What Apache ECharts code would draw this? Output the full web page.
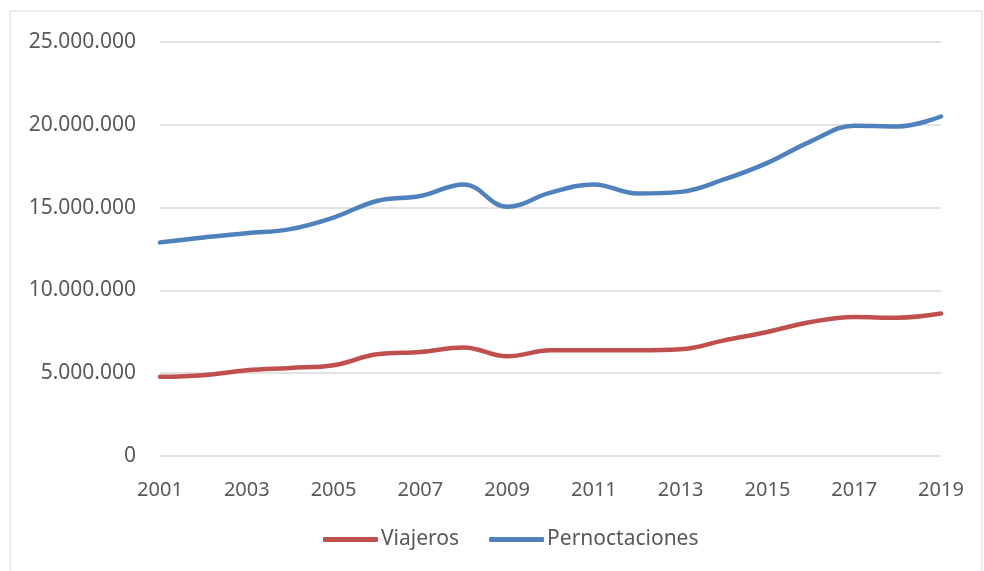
<!DOCTYPE html>
<html>
<head>
    <meta http-equiv="Content-Type" content="text/html; charset=UTF-8" />
    <title>Viajeros y pernoctaciones</title>
    <script src="https://cdn.jsdelivr.net/npm/echarts@6/dist/echarts.min.js"></script>
    <style>
        html, body { margin: 0; padding: 0; background: #fff; }
        #main { width: 984px; height: 571px; }
    </style>
</head>
<body>
<div id="main"></div>
<script type="text/javascript">
    // datos
    var years = ['2001','2002','2003','2004','2005','2006','2007','2008','2009','2010',
                 '2011','2012','2013','2014','2015','2016','2017','2018','2019'];
    var viajeros = [4780000, 4880000, 5180000, 5320000, 5480000, 6140000, 6280000, 6550000, 6020000, 6380000,
                    6380000, 6380000, 6440000, 6980000, 7490000, 8090000, 8390000, 8350000, 8600000];
    var pernoctaciones = [12900000, 13200000, 13450000, 13700000, 14400000, 15400000, 15700000, 16400000, 15050000, 15900000,
                          16400000, 15850000, 15950000, 16700000, 17700000, 19000000, 19950000, 19900000, 20500000];
    var seriesNames = ['Viajeros', 'Pernoctaciones'];

    var textColor = '#595959';
    var fontFam = '"Noto Sans", "Open Sans", sans-serif';

    function fmt(v) {
        // separador de miles con punto
        return String(v).replace(/\B(?=(\d{3})+(?!\d))/g, '.');
    }

    var myChart = echarts.init(document.getElementById('main'));

    var option = {
        animation: false,
        backgroundColor: '#ffffff',
        graphic: [{
            type: 'rect',
            shape: { x: 10, y: 11, width: 972, height: 580 },
            style: { fill: 'none', stroke: '#d9d9d9', lineWidth: 1 },
            silent: true
        }],
        grid: { left: 160, right: 43, top: 42, bottom: 115 },
        legend: {
            data: seriesNames,
            bottom: 16,
            left: 318,
            icon: 'roundRect',
            itemWidth: 55,
            itemHeight: 5,
            itemGap: 30,
            textStyle: { color: textColor, fontSize: 21, fontFamily: fontFam, padding: [0, 0, 0, -2] }
        },
        xAxis: {
            type: 'category',
            data: years,
            boundaryGap: false,
            axisLine: { show: false },
            axisTick: { show: false },
            axisLabel: {
                interval: 1,
                color: textColor,
                fontSize: 20,
                fontFamily: fontFam,
                margin: 24
            }
        },
        yAxis: {
            type: 'value',
            min: 0,
            max: 25000000,
            interval: 5000000,
            axisLine: { show: false },
            axisTick: { show: false },
            splitLine: { lineStyle: { color: '#d9d9d9', width: 1.5 } },
            axisLabel: {
                color: textColor,
                fontSize: 21,
                fontFamily: fontFam,
                margin: 24,
                formatter: fmt
            }
        },
        series: [{
            name: seriesNames[0],
            type: 'line',
            data: viajeros,
            smooth: 0.4,
            showSymbol: false,
            symbol: 'none',
            lineStyle: { width: 4.5, color: '#c0504d', cap: 'round' },
            itemStyle: { color: '#c0504d' }
        }, {
            name: seriesNames[1],
            type: 'line',
            data: pernoctaciones,
            smooth: 0.4,
            showSymbol: false,
            symbol: 'none',
            lineStyle: { width: 4.5, color: '#4f81bd', cap: 'round' },
            itemStyle: { color: '#4f81bd' }
        }]
    };

    myChart.setOption(option);
</script>
</body>
</html>
